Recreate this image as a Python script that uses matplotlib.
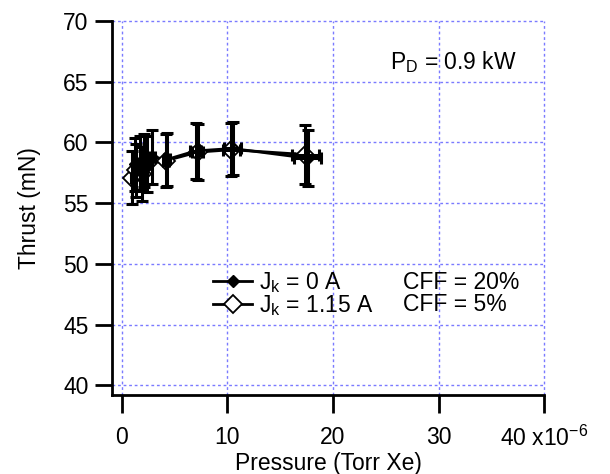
import matplotlib
matplotlib.use("Agg")
import matplotlib.pyplot as plt
from matplotlib.lines import Line2D

plt.rcParams['font.family'] = ['Liberation Sans', 'DejaVu Sans']
plt.rcParams['mathtext.default'] = 'regular'

# pressure in 1e-6 Torr Xe, thrust in mN
p_0A = [1.3, 1.7, 2.1, 2.9, 4.3, 7.0, 10.5, 17.6]
p_err_0A = [0.1, 0.13, 0.16, 0.22, 0.32, 0.52, 0.8, 1.3]
thrust_0A = [58.2, 58.3, 58.5, 58.8, 58.6, 59.3, 59.5, 58.7]
thrust_err_0A = [2.2, 2.2, 2.2, 2.2, 2.2, 2.3, 2.2, 2.3]

p_115A = [1.0, 1.4, 1.9, 2.4, 4.2, 7.2, 10.4, 17.4]
p_err_115A = [0.08, 0.1, 0.14, 0.18, 0.31, 0.54, 0.78, 1.26]
thrust_115A = [57.1, 57.7, 57.4, 58.2, 58.5, 59.2, 59.4, 59.0]
thrust_err_115A = [2.2, 2.2, 2.2, 2.3, 2.2, 2.3, 2.2, 2.4]

x_ticks = [0, 10, 20, 30, 40]
x_ticklabels = ['0', '10', '20', '30', '40 x10$^{-6}$']
y_ticks = [40, 45, 50, 55, 60, 65, 70]

fig = plt.figure(figsize=(6.1, 4.74), dpi=100)
ax = fig.add_axes([0.184, 0.1667, 0.708, 0.789])

grid_kw = dict(color='#7a7aff', lw=1, ls=(0, (2, 2)), zorder=0)
for xv in x_ticks:
    ax.axvline(xv, clip_on=False, **grid_kw)
for yv in y_ticks:
    ax.axhline(yv, clip_on=False, **grid_kw)

# lines + markers
ax.plot(p_0A, thrust_0A, '-D', color='black', lw=2, ms=6, mfc='black', zorder=2)
ax.plot(p_115A, thrust_115A, '-D', color='black', lw=2, ms=9, mfc='white', mew=1.3, zorder=2)

eb_kw = dict(fmt='none', ecolor='black', elinewidth=2.2, capsize=4.5, capthick=2.2, zorder=3)
ax.errorbar(p_0A, thrust_0A, yerr=thrust_err_0A, xerr=p_err_0A, **eb_kw)
ax.errorbar(p_115A, thrust_115A, yerr=thrust_err_115A, xerr=p_err_115A, **eb_kw)

ax.set_xlim(-0.89, 40)
ax.set_ylim(39.2, 70)
ax.set_xticks(x_ticks)
ax.set_xticklabels(x_ticklabels)
ax.set_yticks(y_ticks)

for side in ['top', 'right']:
    ax.spines[side].set_visible(False)
for side in ['left', 'bottom']:
    ax.spines[side].set_linewidth(2)

ax.tick_params(axis='y', direction='out', length=12, width=2, labelsize=16.5, pad=5)
ax.tick_params(axis='x', direction='out', length=13, width=2, labelsize=16.5, pad=9)

ax.set_xlabel('Pressure (Torr Xe)', fontsize=16.5, labelpad=1)
ax.set_ylabel('Thrust (mN)', fontsize=16.5, labelpad=16)

ax.text(0.643, 0.89, 'P$_D$ = 0.9 kW', transform=ax.transAxes, fontsize=16.5, va='center')

handles = [
    Line2D([], [], color='black', lw=2, marker='D', ms=6, mfc='black'),
    Line2D([], [], color='black', lw=2, marker='D', ms=9, mfc='white', mew=1.3),
]
leg = ax.legend(handles, ['J$_k$ = 0 A', 'J$_k$ = 1.15 A'], frameon=False,
                fontsize=16.5, loc='center left', bbox_to_anchor=(0.213, 0.2705),
                handlelength=1.7, handletextpad=0.3, labelspacing=-0.1,
                borderaxespad=0)
ax.text(0.674, 0.300, 'CFF = 20%', transform=ax.transAxes, fontsize=16.5, va='center')
ax.text(0.674, 0.241, 'CFF = 5%', transform=ax.transAxes, fontsize=16.5, va='center')

fig.savefig('out.png', dpi=100)
